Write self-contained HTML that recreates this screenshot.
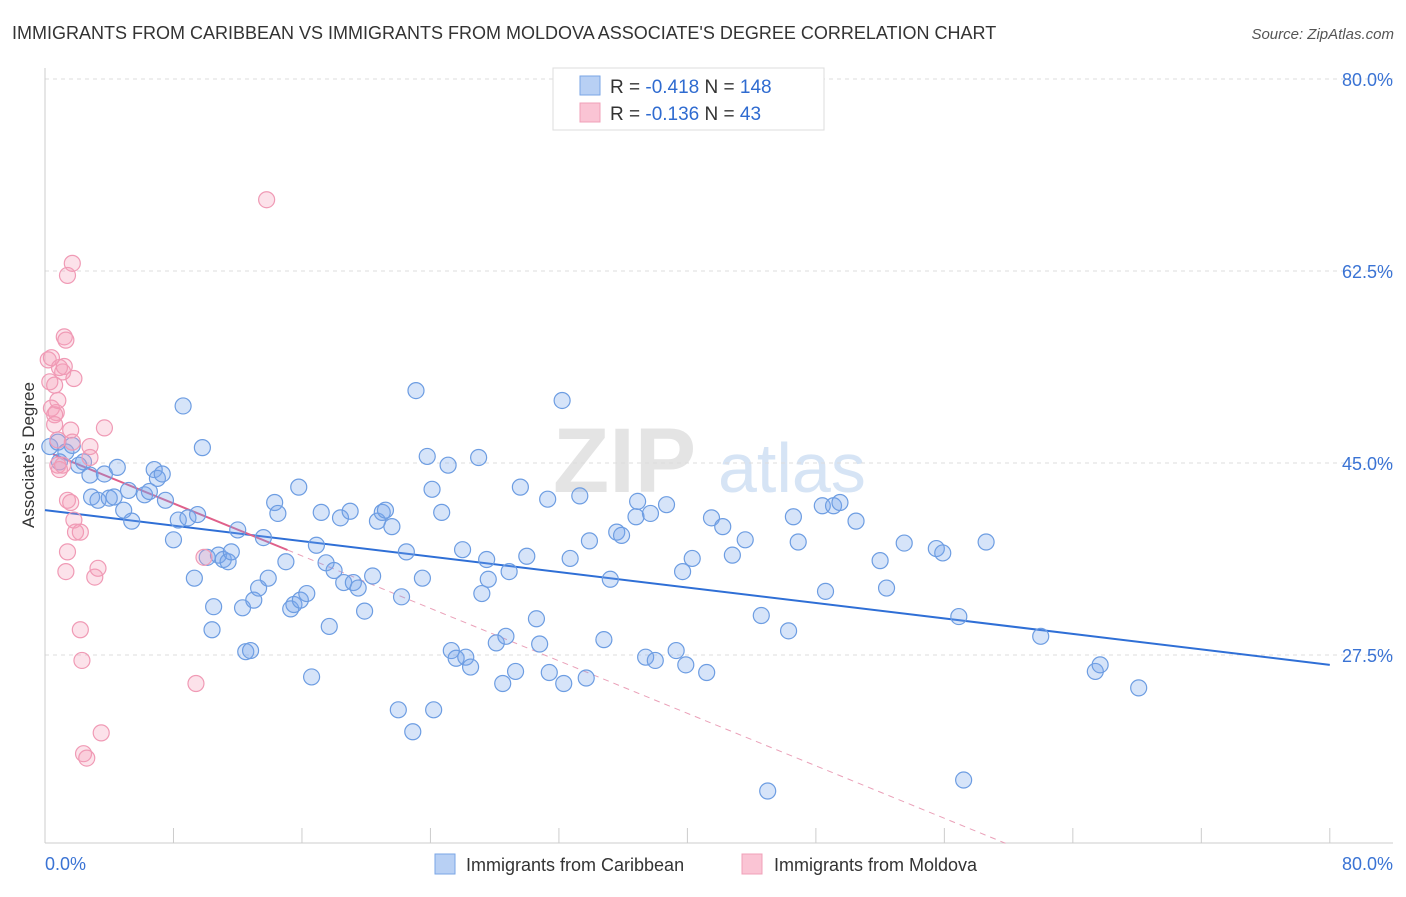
<!DOCTYPE html>
<html><head><meta charset="utf-8"><style>
body{margin:0;background:#fff;font-family:"Liberation Sans",sans-serif;}
svg text{font-family:"Liberation Sans",sans-serif;}
</style></head><body>
<svg id="chart" width="1406" height="892" xmlns="http://www.w3.org/2000/svg">
<text x="12" y="39" font-size="18" fill="#333">IMMIGRANTS FROM CARIBBEAN VS IMMIGRANTS FROM MOLDOVA ASSOCIATE'S DEGREE CORRELATION CHART</text>
<text x="1394" y="39" font-size="15" fill="#555" font-style="italic" text-anchor="end">Source: ZipAtlas.com</text>
<g><text x="553" y="492" font-size="92" fill="#e4e4e4" font-family="Liberation Serif" font-weight="bold">ZIP</text><text x="718" y="492" font-size="70" fill="#d6e4f5">atlas</text></g>
<g id="grid"></g>
<g id="axes"></g>
<g id="lines"></g>
<g id="pts"></g>
<text transform="translate(34,455) rotate(-90)" font-size="17" fill="#333" text-anchor="middle">Associate's Degree</text>
<g>
<rect x="553" y="68" width="271" height="62" fill="#fff" stroke="#ddd"/>
<rect x="580" y="76" width="20" height="19" fill="#b8d0f4" stroke="#7aa6e6"/>
<rect x="580" y="103" width="20" height="19" fill="#fac4d4" stroke="#f0a0b8"/>
<text x="610" y="93" font-size="19" fill="#333">R = <tspan fill="#2f6bd0">-0.418</tspan>   N = <tspan fill="#2f6bd0">148</tspan></text>
<text x="610" y="120" font-size="19" fill="#333">R = <tspan fill="#2f6bd0">-0.136</tspan>   N =  <tspan fill="#2f6bd0">  43</tspan></text>
</g>
<g>
<rect x="435" y="854" width="20" height="20" fill="#b8d0f4" stroke="#7aa6e6"/>
<text x="466" y="871" font-size="18" fill="#333">Immigrants from Caribbean</text>
<rect x="742" y="854" width="20" height="20" fill="#fac4d4" stroke="#f0a0b8"/>
<text x="774" y="871" font-size="18" fill="#333">Immigrants from Moldova</text>
</g>
</svg>
<script>
const blueX=[.3,.8,1.3,.9,1.7,2.1,2.4,2.8,2.9,3.3,3.7,4.0,4.3,4.5,4.9,5.2,5.4,6.2,6.5,6.8,7.0,7.3,7.5,8.0,8.3,8.6,8.9,9.3,9.5,9.8,10.1,10.4,10.5,10.8,11.1,11.4,11.6,12.0,12.3,12.5,12.8,13.0,13.3,13.6,13.9,14.3,14.5,15.0,15.3,15.5,15.8,15.9,16.3,16.6,16.9,17.2,17.5,17.7,18.0,18.4,18.6,19.0,19.2,19.5,19.9,20.4,20.7,21.0,21.2,21.6,22.0,22.2,22.5,22.9,23.1,23.5,23.8,24.1,24.2,24.7,25.1,25.3,25.6,26.0,26.2,26.5,27.0,27.2,27.5,27.6,28.1,28.5,28.7,28.9,29.3,29.6,30.0,30.6,30.8,31.3,31.4,32.2,32.3,32.7,33.3,33.7,33.9,34.8,35.2,35.6,35.9,36.9,36.8,37.4,37.7,38.0,38.7,39.3,39.7,39.9,40.3,41.2,41.5,42.2,42.8,43.6,44.6,45.0,46.3,46.6,46.9,48.4,48.6,49.1,49.5,50.5,52.0,52.4,53.5,55.5,55.9,56.9,57.2,58.6,62.0,65.4,65.7,68.1];
const blueY=[46.5,46.9,46.0,45.1,46.6,44.8,45.1,43.9,41.9,41.6,44.0,41.8,41.9,44.6,40.7,42.5,39.7,42.1,42.4,44.4,43.6,44.0,41.6,38.0,39.8,50.2,40.0,34.5,40.3,46.4,36.4,29.8,31.9,36.6,36.2,36.0,36.9,38.9,31.8,27.8,27.9,32.5,33.6,38.2,34.5,41.4,40.4,36.0,31.7,32.1,42.8,32.5,33.1,25.5,37.5,40.5,35.9,30.1,35.2,40.0,34.1,40.6,34.1,33.6,31.5,34.7,39.7,40.5,40.7,39.2,22.5,32.8,36.9,20.5,51.6,34.5,45.6,42.6,22.5,40.5,44.8,27.9,27.2,37.1,27.3,26.4,45.5,33.1,36.2,34.4,28.6,24.9,29.2,35.1,26.0,42.8,36.5,30.8,28.5,41.7,25.9,50.7,24.9,36.3,42.0,25.4,37.9,28.9,34.4,38.7,38.4,41.5,40.1,27.3,40.4,27.0,41.2,27.9,35.1,26.6,36.3,25.9,40.0,39.2,36.6,38.0,31.1,15.1,29.7,40.1,37.8,41.1,33.3,41.1,41.4,39.7,36.1,33.6,37.7,37.2,36.8,31.0,16.1,37.8,29.2,26.0,26.6,24.5];
const pinkX=[.2,.4,.3,.6,.4,.7,.6,.8,.6,.8,.8,.9,1.1,1.2,1.3,.9,1.2,1.6,1.7,1.8,1.4,1.7,1.4,1.6,1.8,1.9,2.2,1.4,1.3,2.2,2.3,2.4,2.6,2.8,2.8,3.1,3.3,3.7,3.5,9.4,9.9,13.8,1.1];
const pinkY=[54.4,54.6,52.4,52.1,50.0,49.6,49.4,50.7,48.5,47.1,44.8,44.4,53.3,56.5,56.2,53.7,53.8,48.0,46.9,52.7,62.1,63.2,41.6,41.4,39.8,38.7,38.7,36.9,35.1,29.8,27.0,18.5,18.1,46.5,45.5,34.6,35.4,48.2,20.4,24.9,36.4,69.0,44.8];
const yTicks=[27.5,45.0,62.5,80.0];
const yTickLabels=["27.5%","45.0%","62.5%","80.0%"];
const xTickVals=[0,8,16,24,32,40,48,56,64,72,80];
const blueTrend=[40.7,26.6]; // y at x=0, x=80
const pinkTrend=[46.1,-0.598,15.1,59.8]; // intercept, slope, solid end, dashed end
const NS="http://www.w3.org/2000/svg";
const X=v=>45+v*16.06, Y=v=>463-(v-45)*10.97;
function mk(tag,attrs,parent){const e=document.createElementNS(NS,tag);for(const k in attrs)e.setAttribute(k,attrs[k]);parent.appendChild(e);return e;}
const grid=document.getElementById('grid'),axes=document.getElementById('axes'),lines=document.getElementById('lines'),pts=document.getElementById('pts');
yTicks.forEach((t,i)=>{
 const l=mk('line',{x1:45,x2:1393,y1:Y(t),y2:Y(t),stroke:'#ddd','stroke-dasharray':'4,4'},grid);
 
 
 const tx=mk('text',{x:1393,y:Y(t)+7,'font-size':18,fill:'#3a73d4','text-anchor':'end'},axes);
 tx.textContent=yTickLabels[i];
 
 
});
const a1=mk('line',{x1:45,x2:45,y1:68,y2:843,stroke:'#ccc'},axes);


const a2=mk('line',{x1:45,x2:1393,y1:843,y2:843,stroke:'#ccc'},axes);


xTickVals.forEach(v=>{
 const t=mk('line',{x1:X(v),x2:X(v),y1:828,y2:843,stroke:'#ccc'},axes);
 
 
});
[[0,'0.0%','start',45],[80,'80.0%','end',1393]].forEach(d=>{
 const t=mk('text',{x:d[3],y:870,'font-size':18,fill:'#3a73d4','text-anchor':d[2]},axes);
 t.textContent=d[1];
 
 
});
blueX.forEach((x,i)=>{
 const c=mk('circle',{cx:X(x),cy:Y(blueY[i]),r:8,fill:'rgba(120,165,235,0.3)',stroke:'#6d9de2','stroke-width':1.2},pts);
 
 
});
pinkX.forEach((x,i)=>{
 const c=mk('circle',{cx:X(x),cy:Y(pinkY[i]),r:8,fill:'rgba(245,160,185,0.3)',stroke:'#f09ab5','stroke-width':1.2},pts);
 
 
});
const bl=mk('line',{x1:X(0),y1:Y(blueTrend[0]),x2:X(80),y2:Y(blueTrend[1]),stroke:'#2f6fd6','stroke-width':2},lines);


const pf=x=>pinkTrend[0]+pinkTrend[1]*x;
const pl=mk('line',{x1:X(0.5),y1:Y(pf(0.5)),x2:X(pinkTrend[2]),y2:Y(pf(pinkTrend[2])),stroke:'#e0608a','stroke-width':2},lines);


const pd=mk('line',{x1:X(pinkTrend[2]),y1:Y(pf(pinkTrend[2])),x2:X(pinkTrend[3]),y2:Y(pf(pinkTrend[3])),stroke:'#eaa0b8','stroke-width':1,'stroke-dasharray':'6,5'},lines);


</script>
</body></html>
